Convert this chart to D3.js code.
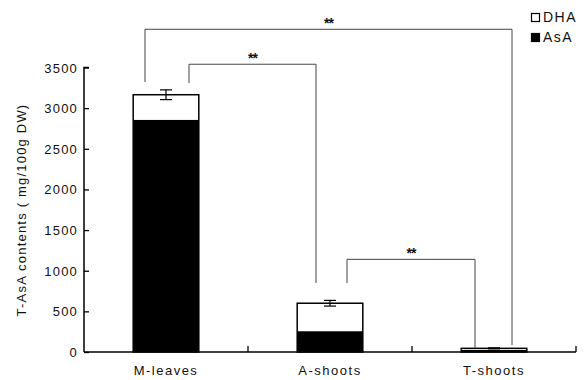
<!DOCTYPE html>
<html>
<head>
<meta charset="utf-8">
<script src="https://cdn.jsdelivr.net/npm/d3@7"></script>
<style>
body{margin:0;background:#fff;}
text{font-family:"Liberation Sans",Arial,sans-serif;fill:#111;}
</style>
</head>
<body>
<script>
var width=585,
	height=380;

var categories=["M-leaves","A-shoots","T-shoots"],
	asa=[2855,255,25],
	dha=[310,345,20],
	errs=[60,35,6],
	yTicks=[0,500,1000,1500,2000,2500,3000,3500];

// brackets: [from category, to category, top value]
var brackets=[[0,2,3970],[0,1,3540],[1,2,1140]];

var margin={left:84,right:9,top:67,bottom:28};

var svg=d3.select("body").append("svg").attr("width",width).attr("height",height);

var x=d3.scaleBand().domain(categories).range([margin.left,576]).paddingInner(0.6).paddingOuter(0.3);
var y=d3.scaleLinear().domain([0,3500]).range([352,67.5]);

// y axis
var yAxis=d3.axisRight(y).tickValues(yTicks).tickSize(5).tickFormat("");
var ga=svg.append("g").attr("transform","translate("+margin.left+",0)").call(yAxis);
ga.select(".domain").attr("d","M0,"+y(0)+"V"+y(3500)+"H5");
ga.selectAll("line").attr("stroke","#000").attr("stroke-width",1.3);
ga.select(".domain").attr("stroke","#000").attr("stroke-width",1.5).attr("fill","none");

svg.selectAll("text.ytick").data(yTicks).enter().append("text").attr("class","ytick")
	.attr("x",78).attr("y",(d)=>y(d)+5)
	.attr("text-anchor","end").attr("font-size",13).attr("letter-spacing",1.2).text((d)=>d);

// x axis with boundary ticks
var step=x.step(),
	edges=[margin.left].concat(categories.map((c)=>x(c)+x.bandwidth()/2+step/2));
svg.append("line").attr("x1",margin.left).attr("x2",576).attr("y1",y(0)).attr("y2",y(0))
	.attr("stroke","#000").attr("stroke-width",1.5);
svg.selectAll("line.xt").data(edges.slice(1)).enter().append("line").attr("class","xt")
	.attr("x1",(d)=>d).attr("x2",(d)=>d).attr("y1",y(0)).attr("y2",y(0)-6)
	.attr("stroke","#000").attr("stroke-width",1.3);

svg.selectAll("text.cat").data(categories).enter().append("text").attr("class","cat")
	.attr("x",(d)=>x(d)+x.bandwidth()/2).attr("y",375)
	.attr("text-anchor","middle").attr("font-size",13).attr("letter-spacing",1.5).text((d)=>d);

// bars
var bars=svg.selectAll("g.bar").data(categories).enter().append("g").attr("class","bar");
bars.append("rect")
	.attr("x",(d)=>x(d)).attr("width",x.bandwidth())
	.attr("y",(d,i)=>y(asa[i]+dha[i])).attr("height",(d,i)=>y(0)-y(asa[i]+dha[i]))
	.attr("fill","#fff").attr("stroke","#000").attr("stroke-width",1.5);
bars.append("rect")
	.attr("x",(d)=>x(d)).attr("width",x.bandwidth())
	.attr("y",(d,i)=>y(asa[i])).attr("height",(d,i)=>y(0)-y(asa[i]))
	.attr("fill","#000");

// error bars
bars.each(function(d,i){
	var g=d3.select(this),cx=x(d)+x.bandwidth()/2,t=asa[i]+dha[i];
	g.append("line").attr("x1",cx).attr("x2",cx).attr("y1",y(t+errs[i])).attr("y2",y(t-errs[i]))
		.attr("stroke","#000").attr("stroke-width",1.2);
	[t+errs[i],t-errs[i]].forEach((v)=>{
		g.append("line").attr("x1",cx-6).attr("x2",cx+6).attr("y1",y(v)).attr("y2",y(v))
			.attr("stroke","#000").attr("stroke-width",1.2);
	});
});

// significance brackets
var bx=[[145,512],[189,316],[347,475]],
	bend=[[82,345],[83,283],[283,348]];
brackets.forEach((b,k)=>{
	var yt=y(b[2]);
	svg.append("path")
		.attr("d","M"+bx[k][0]+","+bend[k][0]+"V"+yt+"H"+bx[k][1]+"V"+bend[k][1])
		.attr("fill","none").attr("stroke","#444").attr("stroke-width",1);
	svg.append("text").attr("x",(bx[k][0]+bx[k][1])/2).attr("y",yt-1)
		.attr("text-anchor","middle").attr("font-size",14).attr("font-weight","bold")
		.attr("letter-spacing",-1).text("**");
});

// legend
var legend=[["DHA","#fff"],["AsA","#000"]];
legend.forEach((l,i)=>{
	svg.append("rect").attr("x",531.5).attr("y",13.5+i*20).attr("width",8).attr("height",8)
		.attr("fill",l[1]).attr("stroke","#000").attr("stroke-width",1.2);
	svg.append("text").attr("x",543).attr("y",22+i*20).attr("font-size",14)
		.attr("letter-spacing",1.5).text(l[0]);
});

// y label
svg.append("text").attr("transform","translate(26,210) rotate(-90)")
	.attr("text-anchor","middle").attr("font-size",13).attr("letter-spacing",1.2).text("T-AsA contents ( mg/100g DW)");
</script>
</body>
</html>
